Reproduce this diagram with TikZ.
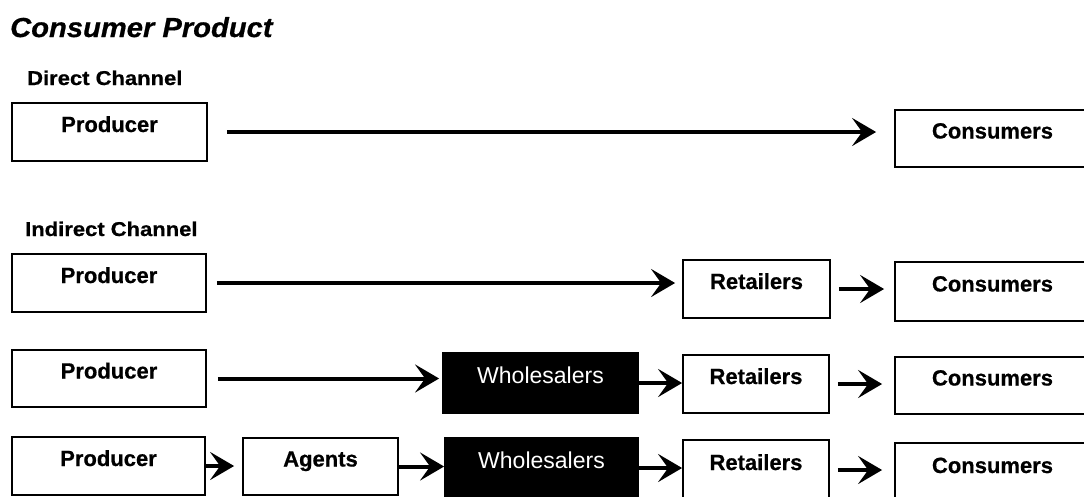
\documentclass[tikz,border=0pt]{standalone}
\usepackage{fontspec}
\setmainfont{Liberation Sans}[BoldFeatures={FakeBold=0.6},BoldItalicFeatures={FakeBold=0.6}]
\usetikzlibrary{arrows.meta}
% headings are set slightly wider than the font's natural width
\newcommand{\widetxt}[1]{\scalebox{1.1}[1]{#1}}

\begin{document}
\begin{tikzpicture}[x=1pt,y=-1pt,
  stage/.style={draw=black, line width=1.8pt, fill=white, inner sep=0pt,
    text height=14pt, text depth=14pt,
    font=\fontsize{22}{26}\selectfont\bfseries},
  darkstage/.style={stage, fill=black, text=white,
    font=\fontsize{23}{26}\selectfont},
  flow/.style={line width=4pt, -{Stealth[length=24pt,width=28pt,inset=10pt]}},
  heading/.style={anchor=base west, inner sep=0pt,
    font=\fontsize{20}{24}\selectfont\bfseries}]

\clip (0,0) rectangle (1084,496);
\fill[white] (0,0) rectangle (1084,496);

% titles
\node[anchor=base west, inner sep=0pt,
  font=\fontsize{27.5}{32}\selectfont\bfseries\itshape] (title) at (10,37)
  {\scalebox{1.06}[1]{Consumer Product}};
\node[heading] (hdirect) at (27,85) {\widetxt{Direct Channel}};
\node[heading] (hindirect) at (25,236) {\widetxt{Indirect Channel}};

% direct channel
\node[stage, minimum width=195pt, minimum height=58pt] (p0) at (109.5,132) {Producer};
\node[stage, minimum width=195pt, minimum height=57pt] (c0) at (992.5,138.5) {Consumers};
\draw[flow, shorten <=19pt, shorten >=18pt] (p0.east) -- (p0.east -| c0.west);

% indirect channel, one level
\node[stage, minimum width=194pt, minimum height=58pt] (p1) at (109,283) {Producer};
\node[stage, minimum width=147pt, minimum height=58pt] (r1) at (756.5,289) {Retailers};
\node[stage, minimum width=195pt, minimum height=59pt] (c1) at (992.5,291.5) {Consumers};
\draw[flow, shorten <=10pt, shorten >=7pt] (p1.east) -- (p1.east -| r1.west);
\draw[flow, shorten <=8pt, shorten >=10pt] (r1.east) -- (r1.east -| c1.west);

% indirect channel, two levels
\node[stage, minimum width=194pt, minimum height=57pt] (p2) at (109,378.5) {Producer};
\node[darkstage, minimum width=195pt, minimum height=60pt] (w2) at (540.5,383) {Wholesalers};
\node[stage, minimum width=146pt, minimum height=58pt] (r2) at (756,384) {Retailers};
\node[stage, minimum width=195pt, minimum height=57pt] (c2) at (992.5,385.5) {Consumers};
\draw[flow, shorten <=11pt, shorten >=3pt] (p2.east) -- (p2.east -| w2.west);
\draw[flow] (w2.east) -- (w2.east -| r2.west);
\draw[flow, shorten <=8pt, shorten >=12pt] (r2.east) -- (r2.east -| c2.west);

% indirect channel, three levels
\node[stage, minimum width=193pt, minimum height=58pt] (p3) at (108.5,466) {Producer};
\node[stage, minimum width=155pt, minimum height=57pt] (a3) at (320.5,466.5) {Agents};
\node[darkstage, minimum width=193pt, minimum height=60pt] (w3) at (541.5,468) {Wholesalers};
\node[stage, minimum width=146pt, minimum height=60pt] (r3) at (756,470) {Retailers};
\node[stage, minimum width=195pt, minimum height=60pt] (c3) at (992.5,473) {Consumers};
\draw[flow, shorten >=8pt] (p3.east) -- (p3.east -| a3.west);
\draw[flow] (a3.east) -- (a3.east -| w3.west);
\draw[flow] (w3.east) -- (w3.east -| r3.west);
\draw[flow, shorten <=8pt, shorten >=12pt] (r3.east) -- (r3.east -| c3.west);
\end{tikzpicture}
\end{document}
